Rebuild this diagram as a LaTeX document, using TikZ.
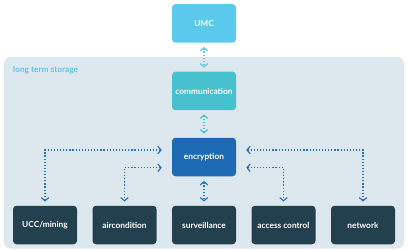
\documentclass[tikz,border=0pt]{standalone}
\usepackage{fontspec}
\setmainfont{Lato}
\usetikzlibrary{arrows.meta,calc}
\definecolor{umcC}{HTML}{5BC9EC}
\definecolor{commC}{HTML}{48C1CF}
\definecolor{encC}{HTML}{1D6AB5}
\definecolor{darkC}{HTML}{22404E}
\definecolor{panelC}{HTML}{DCE8ED}
\definecolor{arrC}{HTML}{2A76C2}
\tikzset{
  box/.style={minimum width=64pt,minimum height=38.5pt,rounded corners=3.5pt,inner sep=0pt,
    text=white,font=\fontsize{8.3}{9}\selectfont\bfseries},
  link/.style={line width=1.3pt,dash pattern=on 1.2pt off 1.9pt,
    {Straight Barb[length=3.2pt,width=7.5pt,line width=1.2pt]}-{Straight Barb[length=3.2pt,width=7.5pt,line width=1.2pt]}}
}
\begin{document}
\begin{tikzpicture}[x=1pt,y=1pt]
\useasboundingbox (0,0) rectangle (409,-251);
\fill[panelC,rounded corners=7pt] (4,-57) rectangle (404,-248.5);
\node[anchor=base west,text=umcC,font=\fontsize{8.3}{9}\selectfont\bfseries,inner sep=0pt] (lts) at (13,-72.5) {long term storage};
\node[box,fill=umcC] (umc) at (204,-23.5) {UMC};
\node[box,fill=commC] (comm) at (204,-91) {communication};
\node[box,fill=encC] (enc) at (204,-157) {encryption};
\node[box,fill=darkC] (ucc) at (45,-225) {UCC/mining};
\node[box,fill=darkC] (air) at (124.5,-225) {aircondition};
\node[box,fill=darkC] (sur) at (204,-225) {surveillance};
\node[box,fill=darkC] (acc) at (283.5,-225) {access control};
\node[box,fill=darkC] (net) at (363,-225) {network};
\draw[link,umcC] ($(umc.south)+(0,-4)$) -- ($(comm.north)+(0,4)$);
\draw[link,commC] ($(comm.south)+(0,-4)$) -- ($(enc.north)+(0,4)$);
\draw[link,arrC] ($(enc.south)+(0,-4.5)$) -- ($(sur.north)+(0,4)$);
\draw[link,arrC] ($(enc.west)+(-10,7)$) -| ($(ucc.north)+(0,4)$);
\draw[link,arrC] ($(enc.west)+(-10,-10.7)$) -| ($(air.north)+(0,4)$);
\draw[link,arrC] ($(enc.east)+(10,7)$) -| ($(net.north)+(0,4)$);
\draw[link,arrC] ($(enc.east)+(10,-10.7)$) -| ($(acc.north)+(0,4)$);
\end{tikzpicture}
\end{document}
